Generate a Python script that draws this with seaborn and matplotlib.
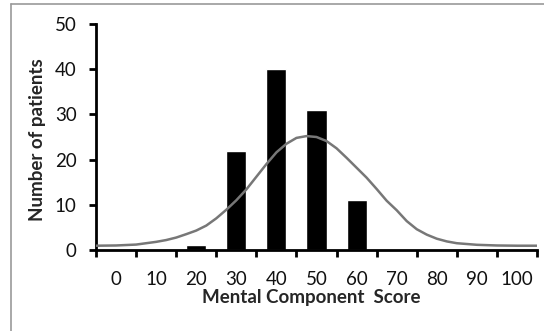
import matplotlib
matplotlib.use("Agg")
import matplotlib.pyplot as plt
import seaborn as sns
import pandas as pd
import numpy as np

# histogram bins and counts
score_bins = ["0", "10", "20", "30", "40", "50", "60", "70", "80", "90", "100"]
patient_counts = [0, 0, 1, 22, 40, 31, 11, 0, 0, 0, 0]

# fitted curve (score, patients)
curve_score = [-5, 0, 5, 10, 12.5, 15, 17.5, 20, 22.5, 25, 27.5, 30, 32.5, 35,
               37.5, 40, 42.5, 45, 47.5, 50, 52.5, 55, 57.5, 60, 62.5, 65,
               67.5, 70, 72.5, 75, 77.5, 80, 82.5, 85, 90, 95, 100, 105]
curve_count = [0.95, 1.0, 1.2, 1.8, 2.2, 2.75, 3.5, 4.3, 5.4, 7.0, 8.9, 11.0,
               13.4, 16.2, 19.0, 21.6, 23.5, 24.8, 25.2, 25.0, 24.1, 22.5,
               20.4, 18.2, 16.0, 13.5, 10.9, 8.8, 6.4, 4.6, 3.4, 2.5, 1.9,
               1.5, 1.15, 1.0, 0.95, 0.95]

sns.set_style("white")
plt.rcParams["font.family"] = ["Lato", "DejaVu Sans"]

df = pd.DataFrame({"score": score_bins, "patients": patient_counts})

fig = plt.figure(figsize=(5.44, 3.31), dpi=100)
ax = fig.add_axes([96 / 544, 1 - 250 / 331, (537 - 96) / 544, (250 - 24) / 331])

sns.barplot(data=df, x="score", y="patients", color="black", width=0.5,
            saturation=1, ax=ax)

# curve on the categorical axis: category index = score / 10
ax.plot(np.array(curve_score) / 10, curve_count, color="#777777", lw=1.8,
        zorder=3)

ax.set_xlim(-0.5, 10.5)
ax.set_ylim(0, 50)
ax.set_yticks(range(0, 51, 10))

# tick marks sit on the bin boundaries, labels at bin centres
ax.set_xticks(np.arange(-0.5, 10.6, 1), minor=False)
ax.set_xticklabels([])
ax.set_xticks(range(len(score_bins)), minor=True)
ax.set_xticklabels(score_bins, minor=True)
ax.tick_params(axis="x", which="major", bottom=True, direction="out",
               length=5, width=2, color="black")
ax.tick_params(axis="x", which="minor", bottom=False, length=0,
               labelsize=13.5, pad=15, labelcolor="#111111")
ax.tick_params(axis="y", left=True, direction="out", length=5, width=2,
               color="black", labelsize=13.5, pad=9, labelcolor="#111111")

for s in ["top", "right"]:
    ax.spines[s].set_visible(False)
for s in ["left", "bottom"]:
    ax.spines[s].set_linewidth(2)
    ax.spines[s].set_color("black")

ax.set_xlabel("Mental Component  Score", fontsize=13.5, fontweight="bold")
ax.set_ylabel("Number of patients", fontsize=13.5, fontweight="bold")
ax.xaxis.set_label_coords(0.489, -0.172)
ax.yaxis.set_label_coords(-0.113, 0.49)

# thin gray frame on the left and top of the picture
fig.add_artist(plt.Line2D([11 / 544, 11 / 544], [0, 1 - 4 / 331],
                          color="#999999", lw=1.2, transform=fig.transFigure))
fig.add_artist(plt.Line2D([11 / 544, 1], [1 - 4 / 331, 1 - 4 / 331],
                          color="#999999", lw=1.2, transform=fig.transFigure))

fig.savefig("out.png", dpi=100)
